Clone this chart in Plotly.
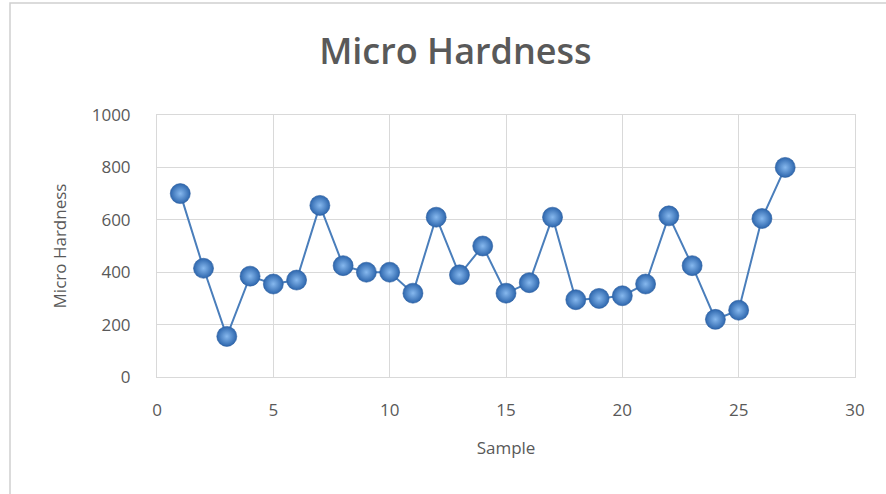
import plotly.graph_objects as go

# Micro hardness measured for each sample
samples = list(range(1, 28))
hardness = [700, 415, 155, 385, 355, 370, 655, 425, 400, 400,
            320, 610, 390, 500, 320, 360, 610, 295, 300, 310,
            355, 615, 425, 220, 255, 605, 800]

x_ticks = [0, 5, 10, 15, 20, 25, 30]
y_ticks = [0, 200, 400, 600, 800, 1000]

text_color = "#595959"
grid_color = "#d9d9d9"
font_family = "Open Sans, Noto Sans, sans-serif"

fig = go.Figure()
fig.add_trace(go.Scatter(
    x=samples,
    y=hardness,
    mode="lines+markers",
    line=dict(color="#4a7ebb", width=2),
    marker=dict(
        size=20,
        color="#2d66ad",
        gradient=dict(type="radial", color="#86b8ee"),
        line=dict(color="#2c5e9f", width=0.6),
    ),
    showlegend=False,
    hoverinfo="x+y",
))

axis_common = dict(
    showgrid=True,
    gridcolor=grid_color,
    gridwidth=1,
    showline=True,
    linecolor=grid_color,
    linewidth=1,
    mirror=True,
    zeroline=False,
    ticks="",
    tickfont=dict(family=font_family, size=17, color=text_color),
)

fig.update_xaxes(
    range=[0, 30],
    tickvals=x_ticks,
    ticktext=[str(v) for v in x_ticks],
    ticklabelstandoff=18,
    title=dict(text="Sample", font=dict(family=font_family, size=17, color=text_color), standoff=21),
    **axis_common,
)
fig.update_yaxes(
    range=[0, 1000],
    tickvals=y_ticks,
    ticktext=[str(v) for v in y_ticks],
    ticklabelstandoff=22,
    title=dict(text="Micro Hardness", font=dict(family=font_family, size=17, color=text_color), standoff=20),
    **axis_common,
)

# Light frame around the whole chart
fig.add_shape(
    type="rect", xref="paper", yref="paper",
    x0=-0.2106, x1=1.08, y0=-0.6, y1=1.4275,
    line=dict(color="#d0d0d0", width=1.5),
    fillcolor="rgba(0,0,0,0)", layer="below",
)

fig.update_layout(
    width=886,
    height=494,
    margin=dict(l=157, r=31, t=115, b=117),
    paper_bgcolor="white",
    plot_bgcolor="white",
    title=dict(
        text="Micro Hardness",
        font=dict(family=font_family, size=36, color=text_color, weight=600),
        xref="container", x=0.514, xanchor="center",
        yref="container", y=0.896, yanchor="middle",
    ),
)

fig.write_html("out.html")
